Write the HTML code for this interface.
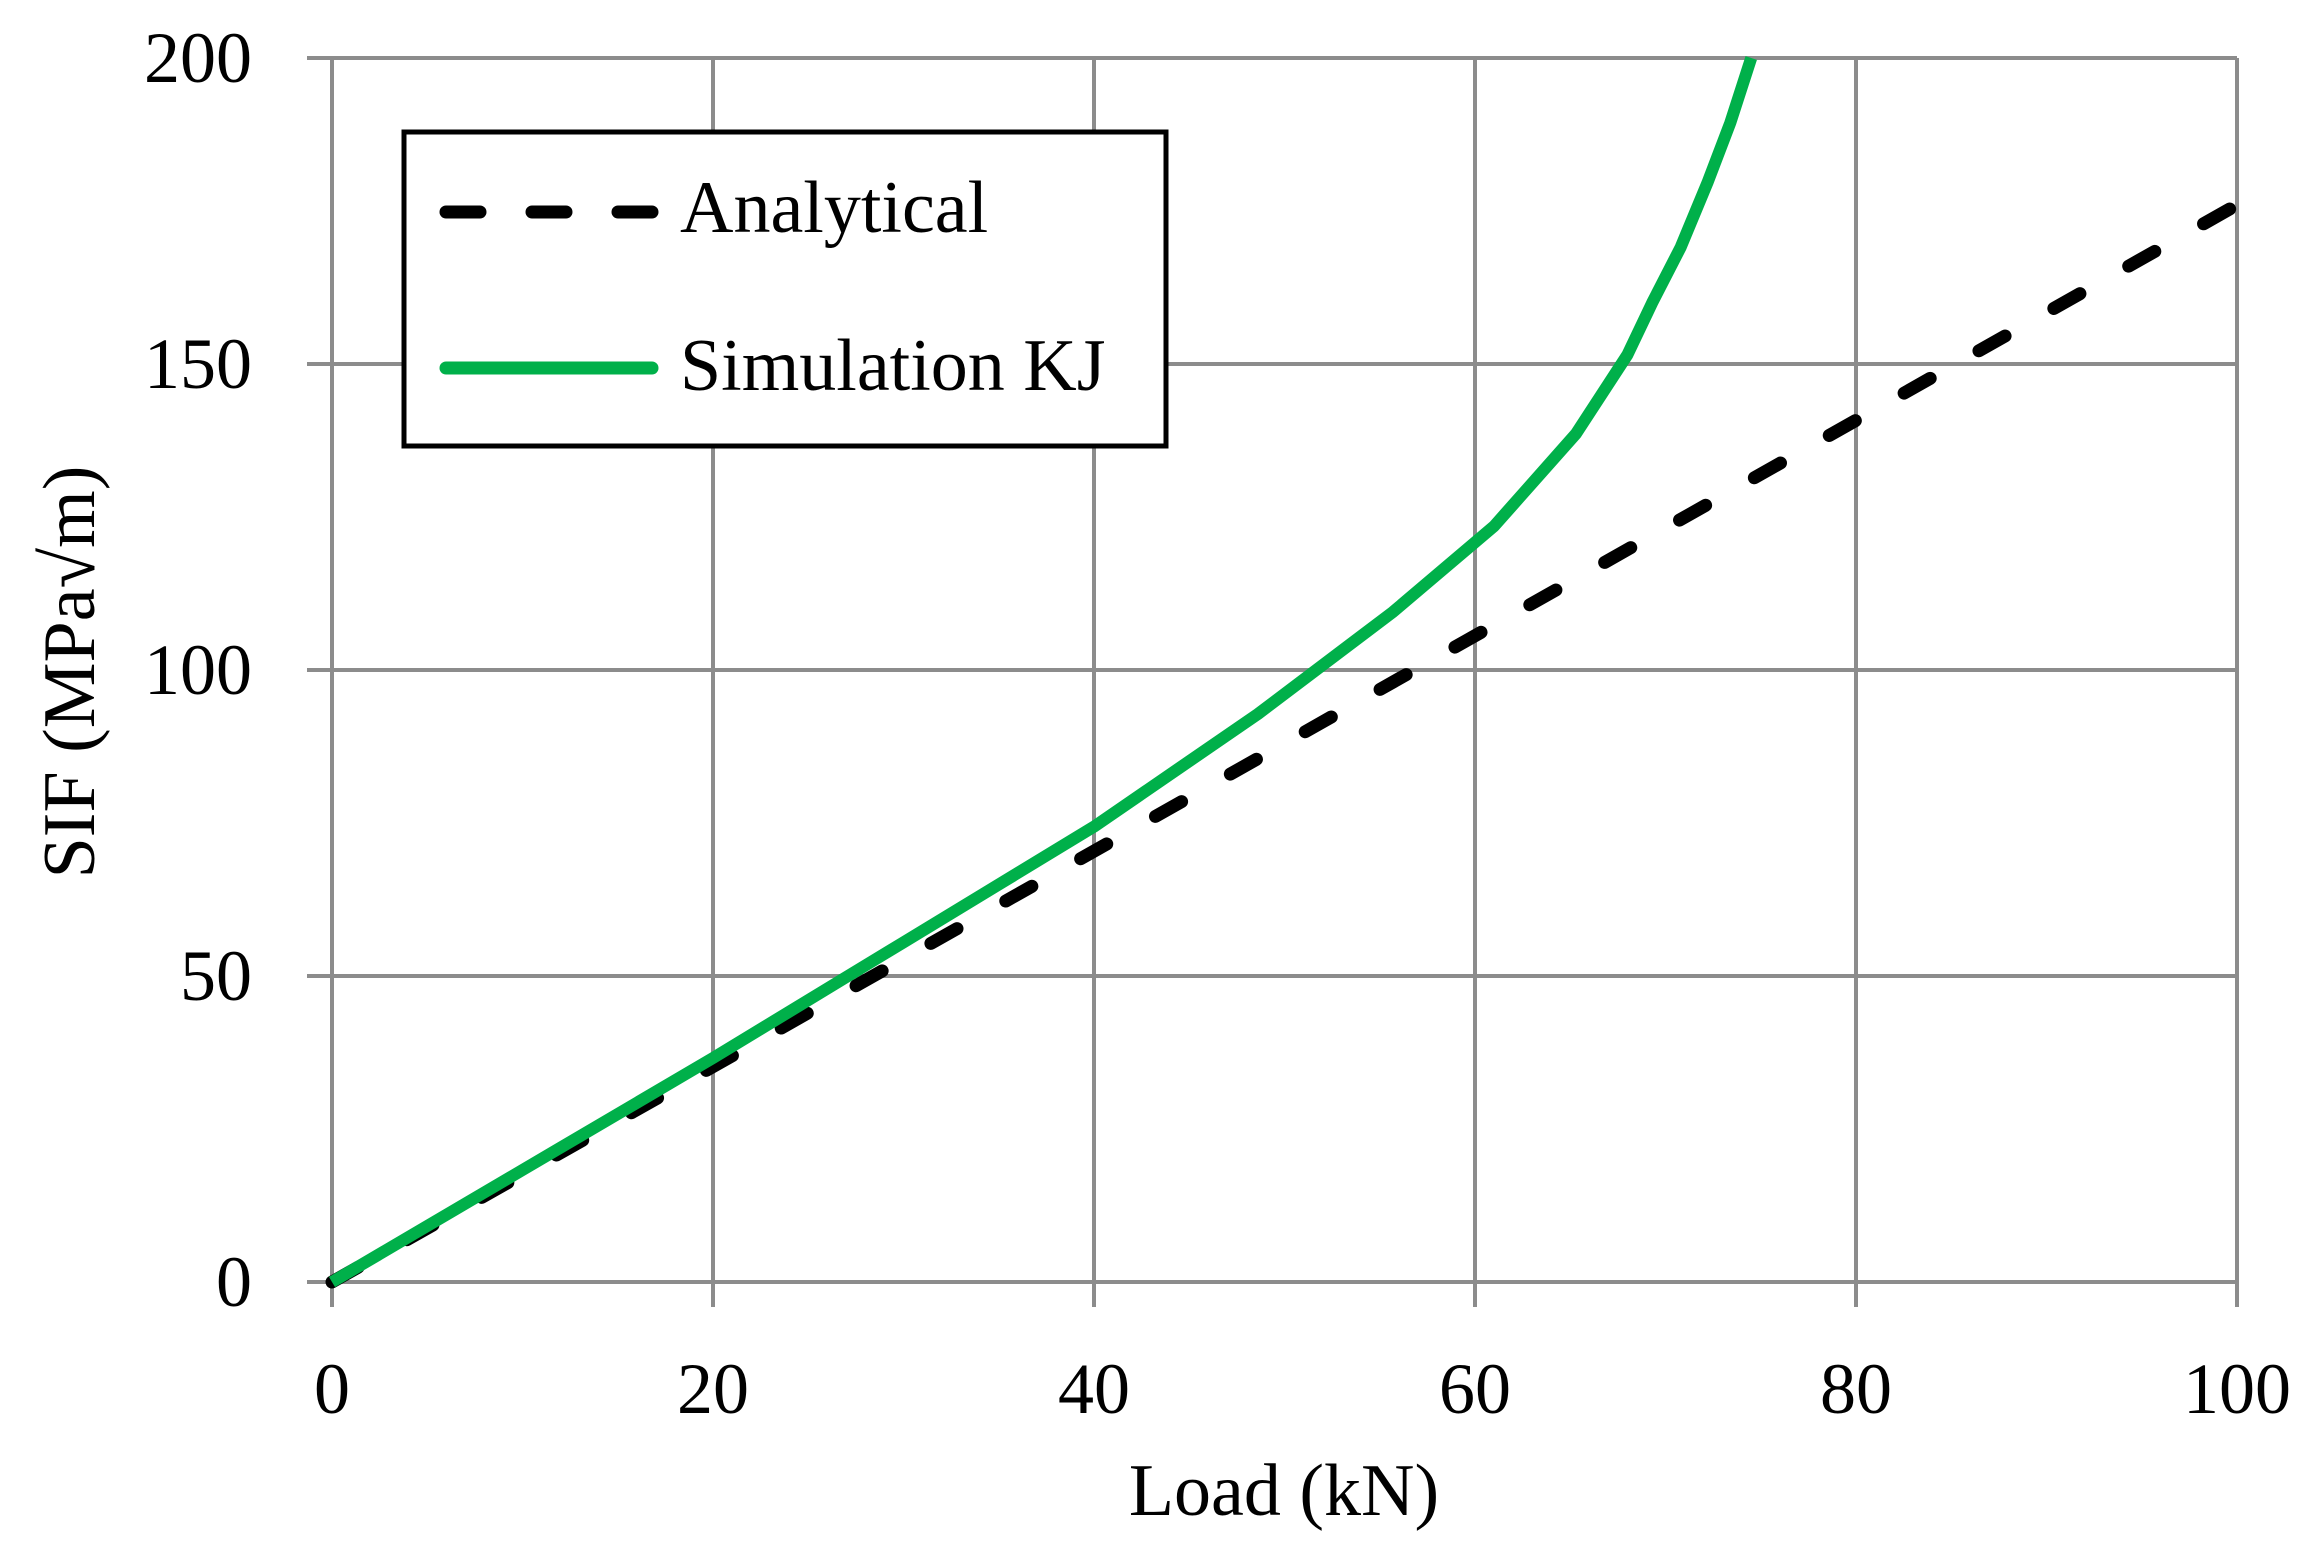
<!DOCTYPE html>
<html><head><meta charset="utf-8"><style>
html,body{margin:0;padding:0;background:#fff;}
svg{display:block;font-family:"Liberation Serif",serif;}
</style></head><body>
<svg id="chart" width="2324" height="1553" viewBox="0 0 2324 1553" xmlns="http://www.w3.org/2000/svg">
<g id="grid"></g>
<g id="series"></g>
<g id="ticks"></g>
<text x="1284" y="1515" font-size="74" text-anchor="middle">Load (kN)</text>
<text x="0" y="0" font-size="74" text-anchor="middle" transform="translate(94,672) rotate(-90)">SIF (MPa√m)</text>
<g>
<rect x="404" y="132" width="762" height="314" fill="#fff" stroke="#000" stroke-width="5"/>
<g>
<line x1="446" y1="212" x2="652" y2="212" stroke="#000" stroke-width="13" stroke-linecap="round" stroke-dasharray="34 52"/>
<text x="680" y="232" font-size="74">Analytical</text>
</g>
<g>
<line x1="446" y1="368" x2="652" y2="368" stroke="#00b04a" stroke-width="13" stroke-linecap="round"/>
<text x="680" y="390" font-size="74">Simulation KJ</text>
</g>
</g>
</svg>
<script>
const xTicks=[0,20,40,60,80,100];
const yTicks=[0,50,100,150,200];
const analyticalX=[0,100];
const analyticalY=[0,176];
const simX=[0,10,20,30,40,48.6,55.7,61.0,65.3,68.0,69.3,70.8,72.2,73.4,74.5];
const simY=[0,18.3,36.6,55.5,74.4,92.8,109.5,123.5,138.6,151.5,160,169.1,179.6,189.4,200];

const L=332,R=2237,T=58,B=1282;
const sx=v=>L+(v-0)/(100-0)*(R-L);
const sy=v=>B-(v-0)/(200-0)*(B-T);
const NS='http://www.w3.org/2000/svg';
function mk(tag,attrs,parent){const e=document.createElementNS(NS,tag);for(const k in attrs)e.setAttribute(k,attrs[k]);parent.appendChild(e);return e;}
const grid=document.getElementById('grid'),ticks=document.getElementById('ticks'),series=document.getElementById('series');
xTicks.forEach(v=>{
  const ln=mk('line',{x1:sx(v),x2:sx(v),y1:T,y2:B+25,stroke:'#8c8c8c','stroke-width':4},grid);
  
  
  const t=mk('text',{x:sx(v),y:1413,'font-size':72,'text-anchor':'middle'},ticks);
  t.textContent=v;
  
  
});
yTicks.forEach(v=>{
  const ln=mk('line',{x1:L-25,x2:R,y1:sy(v),y2:sy(v),stroke:'#8c8c8c','stroke-width':4},grid);
  
  
  const t=mk('text',{x:252,y:sy(v)+24,'font-size':72,'text-anchor':'end'},ticks);
  t.textContent=v;
  
  
});
const pa=analyticalX.map((x,i)=>sx(x)+','+sy(analyticalY[i])).join(' ');
const a=mk('polyline',{points:pa,fill:'none',stroke:'#000','stroke-width':13,'stroke-linecap':'round','stroke-dasharray':'30 56'},series);


const ps=simX.map((x,i)=>sx(x)+','+sy(simY[i])).join(' ');
const s=mk('polyline',{points:ps,fill:'none',stroke:'#00b04a','stroke-width':12,'stroke-linejoin':'round'},series);


</script>
</body></html>
